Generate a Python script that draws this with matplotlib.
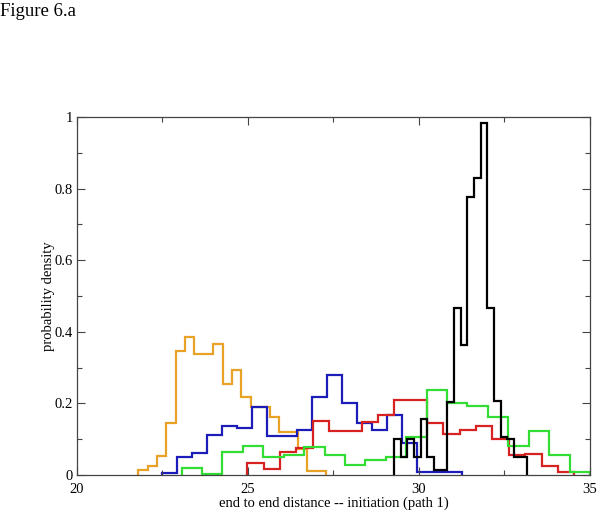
import numpy as np
import matplotlib
matplotlib.use("Agg")
import matplotlib.pyplot as plt
from matplotlib.ticker import MultipleLocator, FuncFormatter

# histogram ranges (lo, hi) and 20 bin densities for each run
orange_range = (21.79, 27.28)
orange = [0.014, 0.025, 0.053, 0.145, 0.347, 0.385, 0.338, 0.338, 0.366, 0.255,
          0.292, 0.219, 0.191, 0.191, 0.163, 0.121, 0.121, 0.072, 0.012, 0.012]

blue_range = (22.50, 31.27)
blue = [0.005, 0.051, 0.062, 0.113, 0.137, 0.130, 0.190, 0.110, 0.110, 0.126,
        0.219, 0.279, 0.202, 0.144, 0.126, 0.168, 0.088, 0.009, 0.009, 0.009]

red_range = (24.98, 34.54)
red = [0.034, 0.016, 0.065, 0.075, 0.152, 0.124, 0.124, 0.149, 0.168, 0.210,
       0.210, 0.146, 0.114, 0.126, 0.137, 0.100, 0.055, 0.058, 0.026, 0.008]

green_range = (23.06, 35.0)
green = [0.019, 0.003, 0.065, 0.081, 0.051, 0.056, 0.077, 0.056, 0.028, 0.042,
         0.050, 0.107, 0.237, 0.202, 0.193, 0.161, 0.081, 0.124, 0.056, 0.009]

black_range = (29.27, 33.17)
black = [0.100, 0.050, 0.100, 0.050, 0.155, 0.050, 0.013, 0.013, 0.205, 0.466,
         0.363, 0.777, 0.829, 0.984, 0.466, 0.208, 0.105, 0.100, 0.050, 0.050]

SERIES = [(orange, orange_range, "#e8a326"),
          (blue, blue_range, "#1c1cb8"),
          (red, red_range, "#d82222"),
          (green, green_range, "#33dd33"),
          (black, black_range, "black")]

plt.rcParams["font.family"] = ["Liberation Serif", "DejaVu Serif"]

fig = plt.figure(figsize=(6.01, 5.12), dpi=100)
ax = fig.add_axes([0.128, 0.0723, 0.8536, 0.6992])

for vals, (lo, hi), col in SERIES:
    edges = np.linspace(lo, hi, len(vals) + 1)
    ax.stairs(vals, edges, baseline=0, color=col, lw=1.6)

ax.set_xlim(20, 35)
ax.set_ylim(0, 1)
ax.xaxis.set_major_locator(MultipleLocator(5))
ax.xaxis.set_minor_locator(MultipleLocator(2.5))
ax.yaxis.set_major_locator(MultipleLocator(0.2))
ax.yaxis.set_minor_locator(MultipleLocator(0.1))
ax.xaxis.set_major_formatter(FuncFormatter(lambda v, p: f"{v:g}"))
ax.yaxis.set_major_formatter(FuncFormatter(lambda v, p: f"{v:g}"))
ax.tick_params(which="both", direction="in", top=True, right=True,
               color="#444444", width=0.8, labelsize=10.5)
ax.tick_params(axis="y", pad=3)
ax.tick_params(axis="x", pad=6)
ax.tick_params(which="major", length=6)
ax.tick_params(which="minor", length=3.5)
for s in ax.spines.values():
    s.set_color("#444444")
    s.set_linewidth(0.9)

ax.set_xlabel("end to end distance -- initiation (path 1)", fontsize=10.5, labelpad=0)
ax.set_ylabel("probability density", fontsize=10.5, labelpad=0)

fig.text(0.0, 0.995, "Figure 6.a", fontsize=13.5, ha="left", va="top")

fig.savefig("out.png", dpi=100)
